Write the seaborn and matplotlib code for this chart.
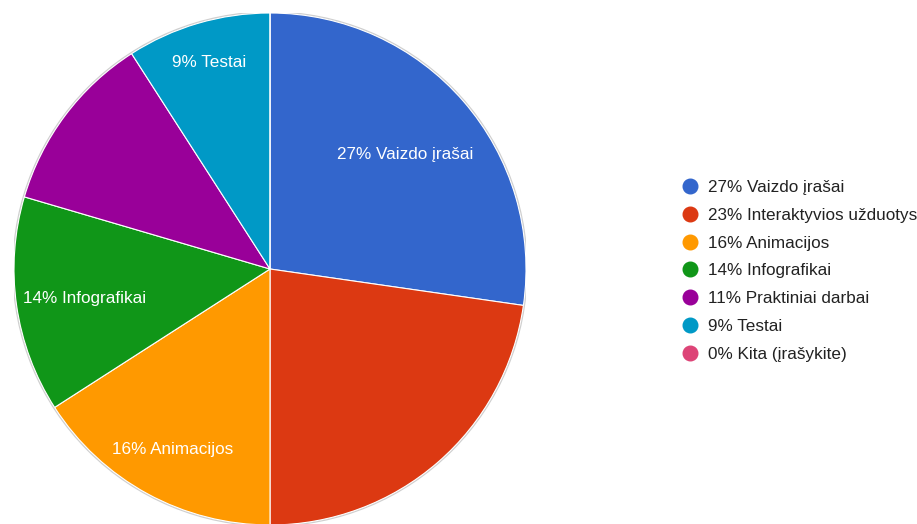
import numpy as np
import matplotlib
matplotlib.use("Agg")
import matplotlib.pyplot as plt
from matplotlib.lines import Line2D
import seaborn as sns

# Survey answers (number of responses per option)
categories = ["Vaizdo įrašai", "Interaktyvios užduotys", "Animacijos",
              "Infografikai", "Praktiniai darbai", "Testai", "Kita (įrašykite)"]
counts = [24, 20, 14, 12, 10, 8, 0]
colors = ["#3366cc", "#dc3912", "#ff9900", "#109618", "#990099", "#0099c6", "#dd4477"]

# Which slices carry an inside label, and how far out along the radius it sits
show_label = [True, False, True, True, False, True, False]
label_radius = [0.70, 0.70, 0.79, 0.73, 0.70, 0.85, 0.70]

sns.set_style("white")
plt.rcParams["font.family"] = ["Liberation Sans", "DejaVu Sans"]

W, H = 917, 524
fig = plt.figure(figsize=(W / 100, H / 100), dpi=100)

cx, cy, R = 270, 269, 256
ax = fig.add_axes([(cx - R) / W, (H - cy - R) / H, 2 * R / W, 2 * R / H])
ax.set_aspect("equal")

total = sum(counts)
pct = [round(100 * c / total) for c in counts]
palette = sns.color_palette(colors)

# soft outline around the pie
ax.add_patch(plt.Circle((0, 0), 1.004, color="#cfcfcf", zorder=0))

wedges, _ = ax.pie(counts, colors=palette, startangle=90, counterclock=False,
                   radius=1.0, wedgeprops=dict(edgecolor="white", linewidth=0.8))

FS = 12.3
for w, name, p, show, r in zip(wedges, categories, pct, show_label, label_radius):
    if not show:
        continue
    mid = np.deg2rad((w.theta1 + w.theta2) / 2)
    ax.text(r * np.cos(mid), r * np.sin(mid) - 0.01, f"{p}% {name}", color="white",
            fontsize=FS, ha="center", va="center")

ax.set_xlim(-1, 1)
ax.set_ylim(-1, 1)
ax.axis("off")

handles = [Line2D([0], [0], marker="o", linestyle="none", markersize=10.5,
                  markerfacecolor=c, markeredgecolor=c) for c in palette]
labels = [f"{p}% {n}" for p, n in zip(pct, categories)]
leg = fig.legend(handles, labels, loc="upper left",
                 bbox_to_anchor=(682 / W, 1 - 180 / H), frameon=False,
                 fontsize=FS, labelspacing=0.75, handletextpad=0.6,
                 handlelength=0.9, borderpad=0, borderaxespad=0)
for t in leg.get_texts():
    t.set_color("#222222")

fig.savefig("out.png", dpi=100)
